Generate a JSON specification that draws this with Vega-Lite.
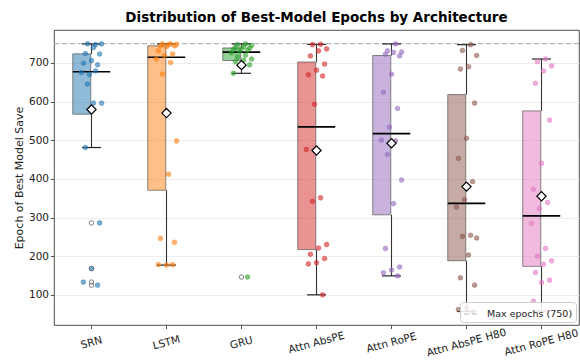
{
  "$schema": "https://vega.github.io/schema/vega-lite/v6.json",
  "width": 525,
  "height": 295,
  "autosize": {"type": "none"},
  "padding": {"left": 54, "top": 30, "right": 1, "bottom": 36},
  "background": "white",
  "title": {"text": "Distribution of Best-Model Epochs by Architecture", "font": "DejaVu Sans", "fontSize": 13.5, "fontWeight": "bold", "color": "black", "anchor": "middle", "offset": 6},
  "config": {
    "view": {"stroke": "#222", "strokeWidth": 0.8},
    "axis": {"labelFont": "DejaVu Sans", "titleFont": "DejaVu Sans", "labelFontSize": 10.5, "titleFontSize": 11, "titleFontWeight": "normal", "labelColor": "#222", "titleColor": "#222", "tickColor": "#222", "domain": false, "tickSize": 3.5, "tickWidth": 0.8, "labelPadding": 2},
    "axisY": {"grid": true, "gridColor": "#e8e8e8", "gridWidth": 0.8, "titleX": -35, "titleBaseline": "middle"},
    "axisX": {"grid": false, "labelAngle": -15, "labelAlign": "center", "labelBaseline": "middle", "labelPadding": 14},
    "legend": {"orient": "bottom-right", "offset": 3, "fillColor": "rgba(255,255,255,0.85)", "strokeColor": "#cccccc", "cornerRadius": 3, "padding": 3, "labelFont": "DejaVu Sans", "labelFontSize": 9.5, "labelColor": "#222", "symbolType": "stroke", "symbolSize": 256, "symbolStrokeColor": "#aaaaaa", "symbolStrokeWidth": 1.2, "labelOffset": 6}
  },
  "datasets": {
    "maxline": [{"label": "Max epochs (750)", "epochs": 750}],
    "runs": [
      {"arch": "SRN", "epoch": 747}, {"arch": "SRN", "epoch": 749}, {"arch": "SRN", "epoch": 749}, {"arch": "SRN", "epoch": 740}, {"arch": "SRN", "epoch": 724},
      {"arch": "SRN", "epoch": 723}, {"arch": "SRN", "epoch": 706}, {"arch": "SRN", "epoch": 699}, {"arch": "SRN", "epoch": 695}, {"arch": "SRN", "epoch": 670},
      {"arch": "SRN", "epoch": 675}, {"arch": "SRN", "epoch": 679}, {"arch": "SRN", "epoch": 645}, {"arch": "SRN", "epoch": 596}, {"arch": "SRN", "epoch": 596},
      {"arch": "SRN", "epoch": 481}, {"arch": "SRN", "epoch": 286}, {"arch": "SRN", "epoch": 168}, {"arch": "SRN", "epoch": 133}, {"arch": "SRN", "epoch": 125},
      {"arch": "LSTM", "epoch": 749}, {"arch": "LSTM", "epoch": 749}, {"arch": "LSTM", "epoch": 748}, {"arch": "LSTM", "epoch": 747}, {"arch": "LSTM", "epoch": 744},
      {"arch": "LSTM", "epoch": 744}, {"arch": "LSTM", "epoch": 742}, {"arch": "LSTM", "epoch": 731}, {"arch": "LSTM", "epoch": 723}, {"arch": "LSTM", "epoch": 719},
      {"arch": "LSTM", "epoch": 710}, {"arch": "LSTM", "epoch": 701}, {"arch": "LSTM", "epoch": 671}, {"arch": "LSTM", "epoch": 498}, {"arch": "LSTM", "epoch": 412},
      {"arch": "LSTM", "epoch": 246}, {"arch": "LSTM", "epoch": 236}, {"arch": "LSTM", "epoch": 177}, {"arch": "LSTM", "epoch": 178}, {"arch": "LSTM", "epoch": 178},
      {"arch": "GRU", "epoch": 749}, {"arch": "GRU", "epoch": 747}, {"arch": "GRU", "epoch": 745}, {"arch": "GRU", "epoch": 742}, {"arch": "GRU", "epoch": 740},
      {"arch": "GRU", "epoch": 738}, {"arch": "GRU", "epoch": 737}, {"arch": "GRU", "epoch": 735}, {"arch": "GRU", "epoch": 733}, {"arch": "GRU", "epoch": 730},
      {"arch": "GRU", "epoch": 726}, {"arch": "GRU", "epoch": 720}, {"arch": "GRU", "epoch": 715}, {"arch": "GRU", "epoch": 710}, {"arch": "GRU", "epoch": 707},
      {"arch": "GRU", "epoch": 703}, {"arch": "GRU", "epoch": 695}, {"arch": "GRU", "epoch": 690}, {"arch": "GRU", "epoch": 673}, {"arch": "GRU", "epoch": 146},
      {"arch": "Attn AbsPE", "epoch": 748}, {"arch": "Attn AbsPE", "epoch": 747}, {"arch": "Attn AbsPE", "epoch": 736}, {"arch": "Attn AbsPE", "epoch": 731}, {"arch": "Attn AbsPE", "epoch": 718},
      {"arch": "Attn AbsPE", "epoch": 697}, {"arch": "Attn AbsPE", "epoch": 681}, {"arch": "Attn AbsPE", "epoch": 669}, {"arch": "Attn AbsPE", "epoch": 666}, {"arch": "Attn AbsPE", "epoch": 593},
      {"arch": "Attn AbsPE", "epoch": 476}, {"arch": "Attn AbsPE", "epoch": 351}, {"arch": "Attn AbsPE", "epoch": 342}, {"arch": "Attn AbsPE", "epoch": 230}, {"arch": "Attn AbsPE", "epoch": 221},
      {"arch": "Attn AbsPE", "epoch": 205}, {"arch": "Attn AbsPE", "epoch": 194}, {"arch": "Attn AbsPE", "epoch": 183}, {"arch": "Attn AbsPE", "epoch": 180}, {"arch": "Attn AbsPE", "epoch": 100},
      {"arch": "Attn RoPE", "epoch": 749}, {"arch": "Attn RoPE", "epoch": 731}, {"arch": "Attn RoPE", "epoch": 728}, {"arch": "Attn RoPE", "epoch": 727}, {"arch": "Attn RoPE", "epoch": 722},
      {"arch": "Attn RoPE", "epoch": 718}, {"arch": "Attn RoPE", "epoch": 671}, {"arch": "Attn RoPE", "epoch": 624}, {"arch": "Attn RoPE", "epoch": 582}, {"arch": "Attn RoPE", "epoch": 534},
      {"arch": "Attn RoPE", "epoch": 500}, {"arch": "Attn RoPE", "epoch": 498}, {"arch": "Attn RoPE", "epoch": 463}, {"arch": "Attn RoPE", "epoch": 397}, {"arch": "Attn RoPE", "epoch": 336},
      {"arch": "Attn RoPE", "epoch": 220}, {"arch": "Attn RoPE", "epoch": 172}, {"arch": "Attn RoPE", "epoch": 164}, {"arch": "Attn RoPE", "epoch": 157}, {"arch": "Attn RoPE", "epoch": 149},
      {"arch": "Attn AbsPE H80", "epoch": 747}, {"arch": "Attn AbsPE H80", "epoch": 732}, {"arch": "Attn AbsPE H80", "epoch": 719}, {"arch": "Attn AbsPE H80", "epoch": 690}, {"arch": "Attn AbsPE H80", "epoch": 684},
      {"arch": "Attn AbsPE H80", "epoch": 596}, {"arch": "Attn AbsPE H80", "epoch": 505}, {"arch": "Attn AbsPE H80", "epoch": 453}, {"arch": "Attn AbsPE H80", "epoch": 393}, {"arch": "Attn AbsPE H80", "epoch": 346},
      {"arch": "Attn AbsPE H80", "epoch": 327}, {"arch": "Attn AbsPE H80", "epoch": 254}, {"arch": "Attn AbsPE H80", "epoch": 251}, {"arch": "Attn AbsPE H80", "epoch": 247}, {"arch": "Attn AbsPE H80", "epoch": 203},
      {"arch": "Attn AbsPE H80", "epoch": 144}, {"arch": "Attn AbsPE H80", "epoch": 125}, {"arch": "Attn AbsPE H80", "epoch": 65}, {"arch": "Attn AbsPE H80", "epoch": 62}, {"arch": "Attn AbsPE H80", "epoch": 57},
      {"arch": "Attn RoPE H80", "epoch": 710}, {"arch": "Attn RoPE H80", "epoch": 703}, {"arch": "Attn RoPE H80", "epoch": 692}, {"arch": "Attn RoPE H80", "epoch": 679}, {"arch": "Attn RoPE H80", "epoch": 647},
      {"arch": "Attn RoPE H80", "epoch": 552}, {"arch": "Attn RoPE H80", "epoch": 440}, {"arch": "Attn RoPE H80", "epoch": 373}, {"arch": "Attn RoPE H80", "epoch": 339}, {"arch": "Attn RoPE H80", "epoch": 323},
      {"arch": "Attn RoPE H80", "epoch": 285}, {"arch": "Attn RoPE H80", "epoch": 220}, {"arch": "Attn RoPE H80", "epoch": 200}, {"arch": "Attn RoPE H80", "epoch": 188}, {"arch": "Attn RoPE H80", "epoch": 179},
      {"arch": "Attn RoPE H80", "epoch": 158}, {"arch": "Attn RoPE H80", "epoch": 138}, {"arch": "Attn RoPE H80", "epoch": 132}, {"arch": "Attn RoPE H80", "epoch": 84}, {"arch": "Attn RoPE H80", "epoch": 58}
    ]
  },
  "layer": [
    {
      "data": {"name": "maxline"},
      "mark": {"type": "rule", "color": "#aaaaaa", "strokeWidth": 1.2, "opacity": 0.85},
      "encoding": {
        "y": {"field": "epochs", "type": "quantitative", "scale": {"domain": [22, 785], "nice": false, "zero": false}, "title": "Epoch of Best Model Save"},
        "strokeDash": {"field": "label", "type": "nominal", "scale": {"range": [[5, 3]]}, "legend": {"title": null}}
      }
    },
    {
      "data": {"name": "runs"},
      "transform": [
        {"joinaggregate": [{"op": "q1", "field": "epoch", "as": "q1"}, {"op": "q3", "field": "epoch", "as": "q3"}, {"op": "median", "field": "epoch", "as": "med"}], "groupby": ["arch"]},
        {"calculate": "datum.q1 - 1.5 * (datum.q3 - datum.q1)", "as": "lofence"},
        {"calculate": "datum.q3 + 1.5 * (datum.q3 - datum.q1)", "as": "hifence"},
        {"filter": "datum.epoch >= datum.lofence && datum.epoch <= datum.hifence"},
        {"aggregate": [{"op": "min", "field": "epoch", "as": "wlo"}, {"op": "max", "field": "epoch", "as": "whi"}, {"op": "min", "field": "q1", "as": "q1"}, {"op": "min", "field": "q3", "as": "q3"}, {"op": "min", "field": "med", "as": "med"}], "groupby": ["arch"]}
      ],
      "layer": [
        {
          "mark": {"type": "bar", "width": {"band": 0.5}, "fillOpacity": 0.5, "stroke": "#555555", "strokeOpacity": 0.7, "strokeWidth": 1},
          "encoding": {
            "x": {"field": "arch", "type": "nominal", "sort": ["SRN", "LSTM", "GRU", "Attn AbsPE", "Attn RoPE", "Attn AbsPE H80", "Attn RoPE H80"], "scale": {"paddingInner": 0, "paddingOuter": 0}, "title": null},
            "y": {"field": "q1", "type": "quantitative", "scale": {"domain": [22, 785], "nice": false, "zero": false}, "title": "Epoch of Best Model Save"},
            "y2": {"field": "q3"},
            "color": {"field": "arch", "type": "nominal", "scale": {"domain": ["SRN", "LSTM", "GRU", "Attn AbsPE", "Attn RoPE", "Attn AbsPE H80", "Attn RoPE H80"], "range": ["#1f77b4", "#ff7f0e", "#2ca02c", "#d62728", "#9467bd", "#8c564b", "#e377c2"]}, "legend": null}
          }
        },
        {
          "mark": {"type": "rule", "color": "#333333", "strokeWidth": 1.1},
          "encoding": {
            "x": {"field": "arch", "type": "nominal", "sort": ["SRN", "LSTM", "GRU", "Attn AbsPE", "Attn RoPE", "Attn AbsPE H80", "Attn RoPE H80"], "scale": {"paddingInner": 0, "paddingOuter": 0}, "title": null},
            "y": {"field": "wlo", "type": "quantitative", "scale": {"domain": [22, 785], "nice": false, "zero": false}, "title": "Epoch of Best Model Save"},
            "y2": {"field": "q1"}
          }
        },
        {
          "mark": {"type": "rule", "color": "#333333", "strokeWidth": 1.1},
          "encoding": {
            "x": {"field": "arch", "type": "nominal", "sort": ["SRN", "LSTM", "GRU", "Attn AbsPE", "Attn RoPE", "Attn AbsPE H80", "Attn RoPE H80"], "scale": {"paddingInner": 0, "paddingOuter": 0}, "title": null},
            "y": {"field": "q3", "type": "quantitative", "scale": {"domain": [22, 785], "nice": false, "zero": false}, "title": "Epoch of Best Model Save"},
            "y2": {"field": "whi"}
          }
        },
        {
          "mark": {"type": "tick", "color": "#222222", "size": 19, "thickness": 1.2, "opacity": 1},
          "encoding": {
            "x": {"field": "arch", "type": "nominal", "sort": ["SRN", "LSTM", "GRU", "Attn AbsPE", "Attn RoPE", "Attn AbsPE H80", "Attn RoPE H80"], "scale": {"paddingInner": 0, "paddingOuter": 0}, "title": null},
            "y": {"field": "wlo", "type": "quantitative", "scale": {"domain": [22, 785], "nice": false, "zero": false}, "title": "Epoch of Best Model Save"}
          }
        },
        {
          "mark": {"type": "tick", "color": "#222222", "size": 19, "thickness": 1.2, "opacity": 1},
          "encoding": {
            "x": {"field": "arch", "type": "nominal", "sort": ["SRN", "LSTM", "GRU", "Attn AbsPE", "Attn RoPE", "Attn AbsPE H80", "Attn RoPE H80"], "scale": {"paddingInner": 0, "paddingOuter": 0}, "title": null},
            "y": {"field": "whi", "type": "quantitative", "scale": {"domain": [22, 785], "nice": false, "zero": false}, "title": "Epoch of Best Model Save"}
          }
        },
        {
          "mark": {"type": "tick", "color": "black", "size": 37.5, "thickness": 1.7, "opacity": 1},
          "encoding": {
            "x": {"field": "arch", "type": "nominal", "sort": ["SRN", "LSTM", "GRU", "Attn AbsPE", "Attn RoPE", "Attn AbsPE H80", "Attn RoPE H80"], "scale": {"paddingInner": 0, "paddingOuter": 0}, "title": null},
            "y": {"field": "med", "type": "quantitative", "scale": {"domain": [22, 785], "nice": false, "zero": false}, "title": "Epoch of Best Model Save"}
          }
        }
      ]
    },
    {
      "data": {"name": "runs"},
      "transform": [
        {"window": [{"op": "row_number", "as": "rn"}], "groupby": ["arch"]},
        {"calculate": "((datum.rn * 7) % 11 - 5) * 0.027", "as": "jit"}
      ],
      "mark": {"type": "point", "filled": true, "size": 22, "fillOpacity": 0.6, "strokeOpacity": 0.75, "strokeWidth": 0.6},
      "encoding": {
        "x": {"field": "arch", "type": "nominal", "sort": ["SRN", "LSTM", "GRU", "Attn AbsPE", "Attn RoPE", "Attn AbsPE H80", "Attn RoPE H80"], "scale": {"paddingInner": 0, "paddingOuter": 0}, "title": null},
        "xOffset": {"field": "jit", "type": "quantitative", "scale": {"domain": [-0.5, 0.5], "range": [0, 75]}},
        "y": {"field": "epoch", "type": "quantitative", "scale": {"domain": [22, 785], "nice": false, "zero": false}, "title": "Epoch of Best Model Save"},
        "color": {"field": "arch", "type": "nominal", "scale": {"domain": ["SRN", "LSTM", "GRU", "Attn AbsPE", "Attn RoPE", "Attn AbsPE H80", "Attn RoPE H80"], "range": ["#1f77b4", "#ff7f0e", "#2ca02c", "#d62728", "#9467bd", "#8c564b", "#e377c2"]}, "legend": null},
        "stroke": {"field": "arch", "type": "nominal", "scale": {"domain": ["SRN", "LSTM", "GRU", "Attn AbsPE", "Attn RoPE", "Attn AbsPE H80", "Attn RoPE H80"], "range": ["#1f77b4", "#ff7f0e", "#2ca02c", "#d62728", "#9467bd", "#8c564b", "#e377c2"]}, "legend": null}
      }
    },
    {
      "data": {"name": "runs"},
      "transform": [
        {"joinaggregate": [{"op": "q1", "field": "epoch", "as": "q1"}, {"op": "q3", "field": "epoch", "as": "q3"}], "groupby": ["arch"]},
        {"filter": "datum.epoch < datum.q1 - 1.5 * (datum.q3 - datum.q1) || datum.epoch > datum.q3 + 1.5 * (datum.q3 - datum.q1)"}
      ],
      "mark": {"type": "point", "filled": false, "size": 20, "color": "#555555", "strokeWidth": 0.8, "opacity": 0.9},
      "encoding": {
        "x": {"field": "arch", "type": "nominal", "sort": ["SRN", "LSTM", "GRU", "Attn AbsPE", "Attn RoPE", "Attn AbsPE H80", "Attn RoPE H80"], "scale": {"paddingInner": 0, "paddingOuter": 0}, "title": null},
        "y": {"field": "epoch", "type": "quantitative", "scale": {"domain": [22, 785], "nice": false, "zero": false}, "title": "Epoch of Best Model Save"}
      }
    },
    {
      "data": {"name": "runs"},
      "mark": {"type": "point", "shape": "diamond", "filled": true, "fill": "white", "stroke": "black", "strokeWidth": 1.2, "size": 85, "opacity": 1},
      "encoding": {
        "x": {"field": "arch", "type": "nominal", "sort": ["SRN", "LSTM", "GRU", "Attn AbsPE", "Attn RoPE", "Attn AbsPE H80", "Attn RoPE H80"], "scale": {"paddingInner": 0, "paddingOuter": 0}, "title": null},
        "y": {"aggregate": "mean", "field": "epoch", "type": "quantitative", "scale": {"domain": [22, 785], "nice": false, "zero": false}, "title": "Epoch of Best Model Save"}
      }
    }
  ],
  "resolve": {"scale": {"color": "independent", "stroke": "independent"}}
}
